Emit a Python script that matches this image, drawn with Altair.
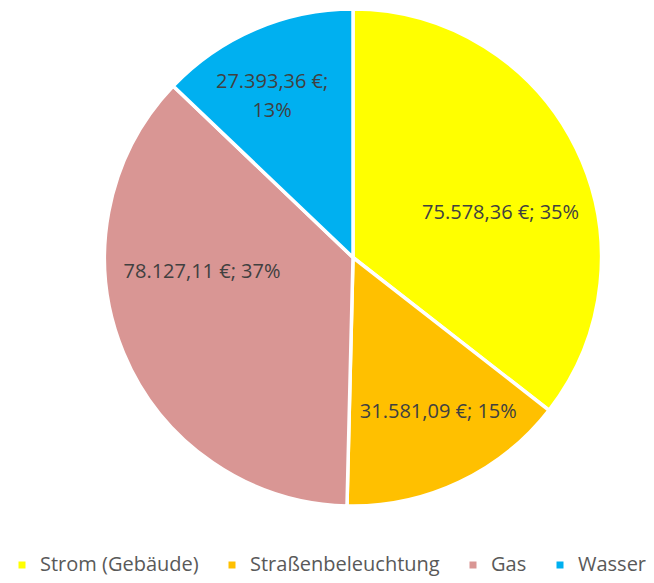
import altair as alt
import pandas as pd

categories = ["Strom (Gebäude)", "Straßenbeleuchtung", "Gas", "Wasser"]
values = [75578.36, 31581.09, 78127.11, 27393.36]
percents = [35, 15, 37, 13]
colors = ["#FFFF00", "#FFC000", "#D99694", "#00B0F0"]


def de_money(v):
    s = f"{v:,.2f}"
    return s.replace(",", "X").replace(".", ",").replace("X", ".") + " €"


labels = []
for c, v, p in zip(categories, values, percents):
    sep = ";\n" if c == "Wasser" else "; "
    labels.append(f"{de_money(v)}{sep}{p}%")

df = pd.DataFrame({
    "Kategorie": categories,
    "Wert": values,
    "order": list(range(len(categories))),
    "label": labels,
})

CX, CY, R = 345, 249.5, 248.5

theta_scale = alt.Scale(domain=[0, 1])

base = (
    alt.Chart(df)
    .transform_joinaggregate(total="sum(Wert)")
    .transform_window(cum="sum(Wert)", sort=[alt.SortField("order")])
    .transform_calculate(
        f_end="datum.cum / datum.total",
        f_start="(datum.cum - datum.Wert) / datum.total",
        f_mid="(datum.cum - datum.Wert / 2) / datum.total",
    )
)

pie = base.mark_arc(stroke="white", strokeWidth=3.5).encode(
    theta=alt.Theta("f_start:Q", scale=theta_scale),
    theta2="f_end:Q",
    x=alt.value(CX),
    y=alt.value(CY),
    radius=alt.value(R),
    color=alt.Color(
        "Kategorie:N",
        scale=alt.Scale(domain=categories, range=colors),
        sort=categories,
        legend=alt.Legend(
            title=None,
            orient="none",
            direction="horizontal",
            legendX=4,
            legendY=547,
            symbolType="square",
            symbolSize=49,
            symbolStrokeWidth=0,
            labelFont="Open Sans",
            labelFontSize=20,
            labelColor="#595959",
            labelOffset=8,
            labelLimit=0,
            columnPadding=23,
            padding=0,
        ),
    ),
)

label_style = {
    "Strom (Gebäude)": dict(r=152, dx=11, dy=22),
    "Straßenbeleuchtung": dict(r=176, dx=10, dy=-5),
    "Gas": dict(r=145, dx=-17, dy=-41),
    "Wasser": dict(r=180, dx=-10, dy=-10),
}

layers = [pie]
for cat in categories:
    st = label_style[cat]
    layers.append(
        base.transform_filter(alt.datum.Kategorie == cat).mark_text(
            font="Open Sans",
            fontSize=20,
            color="#404040",
            lineBreak="\n",
            align="center",
            baseline="middle",
            dx=st["dx"],
            dy=st["dy"],
            lineHeight=29,
        ).encode(
            theta=alt.Theta("f_mid:Q", scale=theta_scale),
            x=alt.value(CX),
            y=alt.value(CY),
            radius=alt.value(st["r"]),
            text=alt.Text("label:N"),
        )
    )

chart = alt.layer(*layers).properties(
    width=638,
    height=575,
    padding=0,
    autosize=alt.AutoSizeParams(type="none"),
).configure_view(stroke=None)

chart.save("out.html", embed_options={"renderer": "svg", "actions": False})
